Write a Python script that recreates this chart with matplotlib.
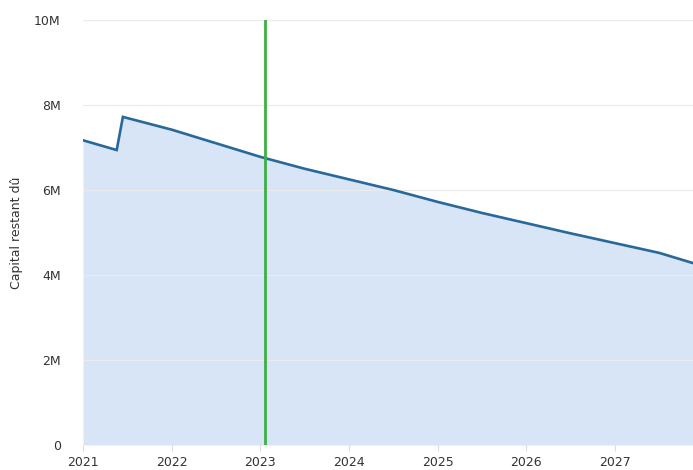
import matplotlib
matplotlib.use("Agg")
import matplotlib.pyplot as plt
import numpy as np

# Outstanding capital over time (fractional years, millions)
dates = [2021.0, 2021.38, 2021.45, 2022.0, 2022.5, 2023.0, 2023.5, 2024.0,
         2024.5, 2025.0, 2025.5, 2026.0, 2026.5, 2027.0, 2027.5, 2027.88]
capital_m = [7.17, 6.94, 7.72, 7.42, 7.10, 6.78, 6.50, 6.25,
             6.00, 5.72, 5.46, 5.22, 4.98, 4.75, 4.52, 4.28]
marker_date = 2023.05
year_ticks = [2021, 2022, 2023, 2024, 2025, 2026, 2027]
y_ticks = [0, 2, 4, 6, 8, 10]
y_tick_labels = ["0", "2M", "4M", "6M", "8M", "10M"]

fig = plt.figure(figsize=(6.93, 4.70), dpi=100)
ax = fig.add_axes([83 / 693, 1 - 445 / 470, 1 - 83 / 693, (445 - 20) / 470])

x = np.array(dates)
y = np.array(capital_m)
ax.fill_between(x, 0, y, color="#d7e5f7", lw=0, zorder=1)
ax.plot(x, y, color="#28699a", lw=1.9, zorder=3, solid_joinstyle="miter")
ax.axvline(marker_date, color="#3cb043", lw=2.0, zorder=4)

ax.set_xlim(2021.0, 2027.88)
ax.set_ylim(0, 10)
ax.set_xticks(year_ticks)
ax.set_xticklabels([str(v) for v in year_ticks])
ax.set_yticks(y_ticks)
ax.set_yticklabels(y_tick_labels)

ax.grid(axis="y", color="#ebebeb", lw=0.8, zorder=0)
for s in ax.spines.values():
    s.set_visible(False)
ax.tick_params(axis="x", length=4, color="#dddddd", labelsize=9,
               labelcolor="#333333", pad=4)
ax.tick_params(axis="y", length=0, labelsize=9, labelcolor="#333333", pad=16)
ax.set_ylabel("Capital restant dû", fontsize=9, color="#333333", labelpad=8)

fig.savefig("out.png", dpi=100)
